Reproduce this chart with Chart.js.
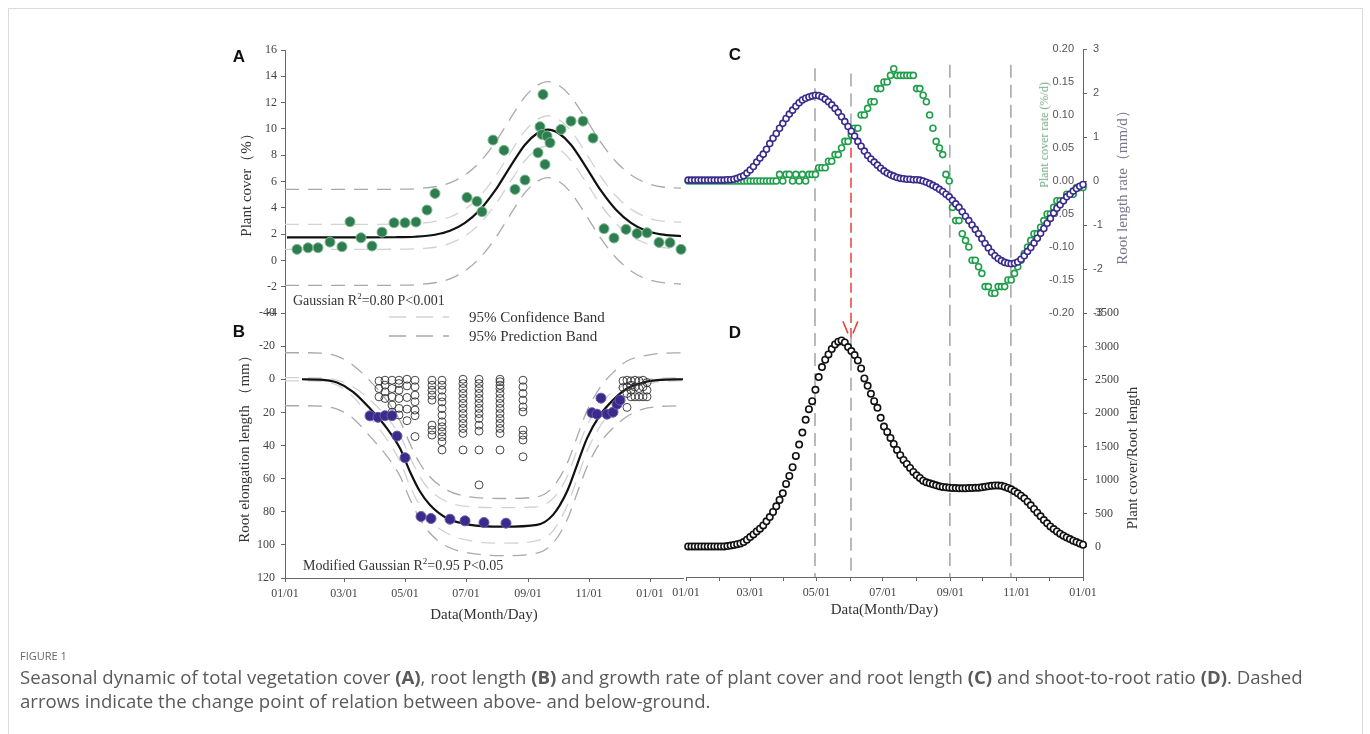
<!DOCTYPE html>
<html>
<head>
<meta charset="utf-8">
<title>Figure 1</title>
<script src="https://cdn.jsdelivr.net/npm/chart.js@4.4.1/dist/chart.umd.min.js"></script>
<style>
  html, body { margin:0; padding:0; background:#fff; }
  body { width:1370px; height:734px; position:relative; overflow:hidden; }
  .frame { position:absolute; left:8px; top:8px; width:1355px; height:800px; border:1px solid #dcdcdc; box-sizing:border-box; }
  canvas.layer { position:absolute; left:0; top:0; }
  .t { position:absolute; white-space:nowrap; line-height:1; }
  .c { transform:translate(-50%,-50%); }
  .rot { transform:translate(-50%,-50%) rotate(-90deg); }
  .ml { transform:translateY(-50%); }
  .panel { font-family:'Liberation Sans', Arial, sans-serif; font-weight:bold; font-size:17px; color:#111; }
  .note { font-family:'Liberation Serif', serif; font-size:14px; color:#333; }
  .note sup { font-size:9px; vertical-align:6px; line-height:0; }
  .leg { font-family:'Liberation Serif', serif; font-size:15px; color:#333; }
  .ttl { font-family:'Liberation Serif', serif; font-size:15px; color:#333; }
  .cap1 { left:20px; top:650px; font-family:'Open Sans', sans-serif; font-size:11px; color:#666; }
  .cap { position:absolute; left:20px; top:665px; width:1345px; font-family:'Open Sans', sans-serif; font-size:18.6px; line-height:24px; color:#5a5a5a; white-space:nowrap; }
  .cap b { font-weight:bold; color:#5a5a5a; }
</style>
</head>
<body>
<div class="frame"></div>
<canvas id="cA" class="layer" width="1370" height="734"></canvas>
<canvas id="cB" class="layer" width="1370" height="734"></canvas>
<canvas id="cC" class="layer" width="1370" height="734"></canvas>
<canvas id="cD" class="layer" width="1370" height="734"></canvas>

<div class="t panel c" style="left:239px;top:56px">A</div>
<div class="t panel c" style="left:239px;top:331px">B</div>
<div class="t panel c" style="left:735px;top:54px">C</div>
<div class="t panel c" style="left:735px;top:332px">D</div>

<div class="t note ml" style="left:293px;top:301px">Gaussian R<sup>2</sup>=0.80 P&lt;0.001</div>
<div class="t note ml" style="left:303px;top:566px">Modified Gaussian R<sup>2</sup>=0.95 P&lt;0.05</div>

<svg style="position:absolute;left:385px;top:308px" width="70" height="36">
  <line x1="4" y1="9" x2="64" y2="9" stroke="#d2d2d2" stroke-width="1.3" stroke-dasharray="17,10"/>
  <line x1="4" y1="28" x2="64" y2="28" stroke="#a9a9a9" stroke-width="1.3" stroke-dasharray="17,10"/>
</svg>
<div class="t leg ml" style="left:469px;top:317px">95% Confidence Band</div>
<div class="t leg ml" style="left:469px;top:336px">95% Prediction Band</div>

<div class="t rot" style="left:1044px;top:135px;font-family:'Liberation Serif',serif;font-size:12px;color:#74a882">Plant cover rate (%/d)</div>
<div class="t ttl rot" style="left:1122px;top:184px;color:#76768e">Root length rate（mm/d）</div>
<div class="t ttl rot" style="left:1132px;top:458px">Plant cover/Root length</div>

<div class="t cap1">FIGURE 1</div>
<div class="cap">Seasonal dynamic of total vegetation cover <b>(A)</b>, root length <b>(B)</b> and growth rate of plant cover and root length <b>(C)</b> and shoot-to-root ratio <b>(D)</b>. Dashed<br>arrows indicate the change point of relation between above- and below-ground.</div>

<script>
// ---------------- DATA ----------------
// Panel A: plant cover (%) observations
const coverDays = [12,23,33,45,57,65,76,87,97,109,120,131,142,150,182,192,197,208,219,230,240,253,255,258,257,260,262,265,276,286,298,308,319,329,341,352,362,374,385,396];
const coverVals = [0.84,0.96,0.96,1.39,1.04,2.94,1.72,1.09,2.15,2.86,2.86,2.92,3.83,5.09,4.79,4.49,3.70,9.15,8.37,5.40,6.11,8.19,10.17,12.62,9.58,7.30,9.45,8.95,9.96,10.59,10.59,9.30,2.41,1.70,2.36,2.05,2.10,1.37,1.35,0.84];
// Panel A: Gaussian fit and bands
const fitDaysA = [2,40,80,110,130,150,165,180,195,210,225,240,252,263,274,286,301,316,331,346,361,376,396];
const fitA     = [1.75,1.75,1.75,1.76,1.8,1.95,2.25,2.85,3.85,5.3,7.1,8.8,9.65,9.95,9.65,8.8,7.1,5.3,3.85,2.85,2.25,1.98,1.85];
const bandDaysA = [0,40,80,110,130,150,165,180,195,210,225,240,252,263,274,286,301,316,331,346,361,376,396];
const confUpA  = [2.74,2.74,2.74,2.76,2.8,2.97,3.3,3.9,4.9,6.35,8.15,9.85,10.7,11.0,10.7,9.85,8.15,6.35,4.9,3.9,3.3,3.0,2.9];
const confLowA = [0.84,0.84,0.84,0.85,0.88,1.0,1.3,1.85,2.8,4.2,5.95,7.6,8.45,8.7,8.45,7.6,5.95,4.2,2.8,1.85,1.3,1.0,0.85];
const predUpA  = [5.4,5.4,5.4,5.41,5.45,5.6,5.9,6.5,7.5,8.95,10.75,12.45,13.3,13.6,13.3,12.45,10.75,8.95,7.5,6.5,5.9,5.6,5.5];
const predLowA = [-1.9,-1.9,-1.9,-1.89,-1.85,-1.7,-1.4,-0.8,0.2,1.65,3.45,5.15,6.0,6.3,6.0,5.15,3.45,1.65,0.2,-0.8,-1.4,-1.67,-1.8];
const yTicksA = [-4,-2,0,2,4,6,8,10,12,14,16];

// Panel B: root elongation length (mm)
const rootDays = [85,93,100,107,112,120,136,146,165,180,199,221,307,312,316,322,328,332,335];
const rootVals = [22.1,23,22,22,34.3,47.4,82.9,84.1,84.5,85.5,86.5,86.9,20.2,21.1,11.4,21.1,19.9,15.1,12.6];
const obsColDays = [94,100,107,114,122,130,147,157,178,194,215,238,338,342,346,350,354,358,362];
const obsColVals = [
  [1,5.6,10.6],
  [0.6,3.6,7.6,11.6],
  [0.6,5.6,10.6,15.6,20],
  [0.6,2.6,6.6,11.6,17.6,21.6],
  [0,4,11,18,25],
  [0.6,4.6,9.6,13.6,18.6,22,34.6],
  [0.6,3.6,6.6,9.6,12.6,27.7,30.7,33.7],
  [0.6,3.6,6.6,10.6,13.7,17.7,21.7,25.7,28.7,31.7,34.7,37.7,42.7],
  [0,2.6,5.6,8.6,11.6,14.6,17.6,20.7,23.7,26.7,29.7,32.7,42.7],
  [0,2.6,5.6,8.6,11.6,14.6,17.6,20.7,23.7,27.7,31.3,42.7,63.8],
  [0,1.5,3.6,5.6,8.6,11.6,14.6,17.6,20.7,23.7,26.7,29.7,32.7,42.7],
  [0.6,4.6,8.6,12.6,16.7,19.7,30.7,33.7,36.7,46.8],
  [1,5],
  [0.6,4.6,8.6,17],
  [1,3.6,6.6,10.6],
  [0.6,4.6,10.6],
  [1,5.6,10.6],
  [0.6,4.6,10.6],
  [2,6.6,10.6]
];
const fitDaysB = [17,35,52,68,85,102,115,125,135,145,162,185,218,252,268,282,292,302,315,328,342,358,375,398];
const fitB     = [0,0.2,2,7.6,17.7,29.7,41.7,55.8,67.8,75.9,83.9,87.9,89,87.9,81.9,67.8,51.8,35.7,21.7,12.6,5.6,2,0.4,0];
const bandDaysB = [0,17,35,52,68,85,102,115,125,135,145,162,185,218,252,268,282,292,302,315,328,342,358,375,398];
const predUpB  = [-16,-16,-15.8,-14,-8.5,1,13,25,39,51,59,67,71,72,71,65,51,35,19,5,-4,-11,-14,-15.6,-16];
const predLowB = [16,16,16.2,18,23.5,34.5,46.5,58.5,72.5,84.5,93,101,105,106.5,105,99,85,69,53,38.5,29.5,22.5,18,16.4,16];
const confUpB  = [-1,-1,-0.8,0.5,4.5,12.5,23,34,47,59,67,74,77,77.5,77,72,59,43,28,15,7.5,2.5,0.2,-0.6,-1];
const confLowB = [1,1,1.2,3.5,10.5,23,36.5,49.5,64.5,76.5,85,93,97.5,99,97.5,91.5,76.5,60.5,43.5,28.5,18,9,4,1.4,1];
const yTicksB = [-40,-20,0,20,40,60,80,100,120];
const bTickDays = [0,59,120,181,243,304,365];
const bTickLabels = ['01/01','03/01','05/01','07/01','09/01','11/01','01/01'];

// Panels C and D: daily-rate series
const rateDays = [2,5,8,11,14,17,20,23,26,29,32,35,38,41,44,47,50,53,56,59,62,65,68,71,74,77,80,83,86,89,92,95,98,101,104,107,110,113,116,119,122,125,128,131,134,137,140,143,146,149,152,155,158,161,164,167,170,173,176,179,182,185,188,191,194,197,200,203,206,209,212,215,218,221,224,227,230,233,236,239,242,245,248,251,254,257,260,263,266,269,272,275,278,281,284,287,290,293,296,299,302,305,308,311,314,317,320,323,326,329,332,335,338,341,344,347,350,353,356,359,362,365];
const rootRate = [0.02,0.02,0.02,0.02,0.02,0.02,0.02,0.02,0.02,0.02,
  0.02,0.02,0.03,0.03,0.04,0.06,0.09,0.12,0.18,0.25,
  0.33,0.43,0.52,0.61,0.72,0.85,0.97,1.08,1.2,1.31,
  1.42,1.52,1.61,1.7,1.78,1.84,1.88,1.91,1.93,1.95,
  1.94,1.91,1.86,1.8,1.73,1.65,1.56,1.46,1.35,1.24,
  1.13,1.02,0.9,0.79,0.68,0.58,0.5,0.43,0.36,0.29,
  0.23,0.18,0.14,0.11,0.08,0.06,0.05,0.04,0.04,0.03,
  0.03,0.02,0.0,-0.03,-0.06,-0.1,-0.14,-0.19,-0.24,-0.3,
  -0.36,-0.44,-0.52,-0.6,-0.7,-0.8,-0.9,-1.0,-1.1,-1.2,
  -1.31,-1.42,-1.52,-1.62,-1.7,-1.76,-1.81,-1.85,-1.87,-1.88,
  -1.87,-1.84,-1.78,-1.7,-1.6,-1.51,-1.41,-1.3,-1.19,-1.08,
  -0.96,-0.85,-0.73,-0.62,-0.54,-0.45,-0.36,-0.3,-0.23,-0.17,
  -0.12,-0.08];
const coverRate = [0,0,0,0,0,0,0,0,0,0,
  0,0,0,0,0,0,0,0,0,0,
  0,0,0,0,0,0,0,0,0.01,0,
  0.01,0.01,0,0.01,0,0.01,0,0.01,0.01,0.01,
  0.02,0.02,0.02,0.03,0.03,0.04,0.04,0.05,0.06,0.06,
  0.07,0.08,0.08,0.10,0.10,0.11,0.12,0.12,0.14,0.14,
  0.15,0.15,0.16,0.17,0.16,0.16,0.16,0.16,0.16,0.16,
  0.14,0.14,0.13,0.12,0.10,0.08,0.06,0.05,0.04,0.01,
  0,-0.04,-0.06,-0.06,-0.08,-0.09,-0.10,-0.12,-0.12,-0.13,
  -0.14,-0.16,-0.16,-0.17,-0.17,-0.16,-0.16,-0.16,-0.15,-0.15,
  -0.14,-0.13,-0.12,-0.11,-0.10,-0.09,-0.08,-0.08,-0.07,-0.06,
  -0.05,-0.05,-0.04,-0.03,-0.03,-0.03,-0.02,-0.02,-0.02,-0.01,
  -0.01,-0.01];
const ratio = [5,5,5,5,5,5,5,5,5,5,
  5,5,10,18,28,38,50,70,105,145,
  185,230,270,320,380,445,520,605,700,800,
  940,1060,1190,1360,1530,1710,1900,2060,2180,2350,
  2540,2690,2800,2880,2960,3030,3070,3090,3060,2990,
  2930,2870,2790,2670,2520,2410,2290,2180,2080,1930,
  1800,1720,1630,1540,1450,1370,1300,1240,1180,1120,
  1070,1030,990,965,950,935,920,905,895,890,
  885,880,878,875,875,876,878,880,882,885,
  890,897,905,912,917,918,912,900,880,860,
  830,800,765,725,675,620,565,510,455,400,
  350,305,265,230,195,165,140,115,90,70,
  50,30];
const cTicksCover = [-0.2,-0.15,-0.1,-0.05,0,0.05,0.1,0.15,0.2];
const cTicksRoot = [-3,-2,-1,0,1,2,3];
const dTicks = [0,500,1000,1500,2000,2500,3000,3500];
const dMonthDays = [0,31,59,90,120,151,181,212,243,273,304,334,365];
const dMonthLabels = ['01/01','','03/01','','05/01','','07/01','','09/01','','11/01','','01/01'];
// change-point markers (day of year) and their extents
const vlineDays = [118.6,151.7,242.6,298.7];
const vlineTopC = [0.171,0.163,0.176,0.176];
const vlineBotC = [-0.2,0.073,-0.2,-0.2];
const vlineTopD = [3500,3130,3500,3500];
const vlineBotD = [-453,-453,-453,-453];
const redDay = 151.7;
const redC = [0.073,-0.2];
const redD = [3500,3130];
const arrowLDays = [144.3,148.9], arrowLVals = [3375,3195];
const arrowRDays = [158.0,153.5], arrowRVals = [3375,3195];

// ---------------- HELPERS ----------------
const SERIF = "'Liberation Serif', 'Times New Roman', serif";
const SANS = "'Liberation Sans', Arial, sans-serif";
Chart.defaults.font.family = SERIF;
Chart.defaults.color = '#444';
Chart.defaults.animation = false;
Chart.defaults.events = [];
Chart.defaults.plugins.legend.display = false;
Chart.defaults.plugins.tooltip.enabled = false;

const pts = (xs, ys) => xs.map((x, i) => ({x: x, y: ys[i]}));
function curve(xs, ys, color, width, dash, yAxisID) {
  return {data: pts(xs, ys), borderColor: color, borderWidth: width, borderDash: dash || [],
    pointRadius: 0, fill: false, cubicInterpolationMode: 'monotone', yAxisID: yAxisID || 'y', clip: 4};
}
function seg(xs, ys, color, width, dash, yAxisID) {
  return {data: pts(xs, ys), borderColor: color, borderWidth: width, borderDash: dash || [],
    pointRadius: 0, fill: false, tension: 0, yAxisID: yAxisID || 'y', clip: false};
}
function dots(xs, ys, r, fillC, strokeC, bw, yAxisID) {
  return {data: pts(xs, ys), showLine: false, pointRadius: r, pointBackgroundColor: fillC,
    pointBorderColor: strokeC, pointBorderWidth: bw, yAxisID: yAxisID || 'y', clip: false};
}
const fixTicks = vals => (s => { s.ticks = vals.map(v => ({value: v})); });
const axisGrid = {display: true, drawOnChartArea: false, drawTicks: true, tickLength: 4, color: '#666'};
const axisBorder = {display: true, color: '#666', width: 1};

// ---------------- PANEL A ----------------
new Chart(document.getElementById('cA'), {
  type: 'line',
  data: {datasets: [
    dots(coverDays, coverVals, 5, '#2e7d4e', '#7fb893', 1),
    curve(fitDaysA, fitA, '#111', 2.2),
    curve(bandDaysA, confUpA, '#d2d2d2', 1.3, [14, 9]),
    curve(bandDaysA, confLowA, '#d2d2d2', 1.3, [14, 9]),
    curve(bandDaysA, predUpA, '#a9a9a9', 1.3, [14, 9]),
    curve(bandDaysA, predLowA, '#a9a9a9', 1.3, [14, 9])
  ]},
  options: {
    responsive: false,
    layout: {padding: {left: 235, right: 687, top: 50, bottom: 421}},
    scales: {
      x: {type: 'linear', min: 0, max: 398, display: false},
      y: {type: 'linear', min: -4, max: 16, afterBuildTicks: fixTicks(yTicksA),
        ticks: {font: {family: SERIF, size: 12}, color: '#444', padding: 4},
        grid: axisGrid, border: axisBorder,
        title: {display: true, text: 'Plant cover（%）', font: {family: SERIF, size: 15}, color: '#333', padding: {top: 3, bottom: 0}},
        afterFit: s => { s.width = 50; }}
    }
  }
});

// ---------------- PANEL B ----------------
const obsDaysFlat = [], obsValsFlat = [];
obsColDays.forEach((d, i) => obsColVals[i].forEach(v => { obsDaysFlat.push(d); obsValsFlat.push(v); }));
new Chart(document.getElementById('cB'), {
  type: 'line',
  data: {datasets: [
    dots(rootDays, rootVals, 5, '#3b2a8a', '#6a5cb0', 1),
    dots(obsDaysFlat, obsValsFlat, 4, 'rgba(255,255,255,0)', '#333', 0.9),
    curve(fitDaysB, fitB, '#111', 2.2),
    curve(bandDaysB, confUpB, '#d2d2d2', 1.3, [14, 9]),
    curve(bandDaysB, confLowB, '#d2d2d2', 1.3, [14, 9]),
    curve(bandDaysB, predUpB, '#a9a9a9', 1.3, [14, 9]),
    curve(bandDaysB, predLowB, '#a9a9a9', 1.3, [14, 9])
  ]},
  options: {
    responsive: false,
    layout: {padding: {left: 235, right: 687, top: 313, bottom: 106}},
    scales: {
      x: {type: 'linear', min: 0, max: 398, position: 'bottom', afterBuildTicks: fixTicks(bTickDays),
        ticks: {autoSkip: false, maxRotation: 0, font: {family: SERIF, size: 12}, color: '#444', padding: 5,
          callback: v => { const i = bTickDays.indexOf(v); return i >= 0 ? bTickLabels[i] : ''; }},
        grid: axisGrid, border: axisBorder,
        title: {display: true, text: 'Data(Month/Day)', font: {family: SERIF, size: 15}, color: '#333', padding: {top: 0, bottom: 4}},
        afterFit: s => { s.height = 50; }},
      y: {type: 'linear', min: -40, max: 120, reverse: true, afterBuildTicks: fixTicks(yTicksB),
        ticks: {font: {family: SERIF, size: 12}, color: '#444', padding: 6},
        grid: axisGrid, border: axisBorder,
        title: {display: true, text: 'Root elongation length （mm）', font: {family: SERIF, size: 15}, color: '#333', padding: {top: 1, bottom: 0}},
        afterFit: s => { s.width = 50; }}
    }
  }
});

// ---------------- PANEL C ----------------
const cDatasets = [
  dots(rateDays, rootRate, 3, '#fff', '#3a2a8c', 1.6, 'yP'),
  dots(rateDays, coverRate, 3, '#fff', '#1f9e4a', 1.6, 'yG')
];
vlineDays.forEach((d, i) => cDatasets.push(seg([d, d], [vlineTopC[i], vlineBotC[i]], '#a3a3a3', 1.5, [13, 7], 'yG')));
cDatasets.push(seg([redDay, redDay], redC, '#e8413c', 1.5, [10, 5], 'yG'));
new Chart(document.getElementById('cC'), {
  type: 'line',
  data: {datasets: cDatasets},
  options: {
    responsive: false,
    layout: {padding: {left: 686, right: 257, top: 49, bottom: 421}},
    scales: {
      x: {type: 'linear', min: 0, max: 365, display: false},
      yG: {type: 'linear', position: 'right', weight: 0, min: -0.2, max: 0.2, afterBuildTicks: fixTicks(cTicksCover),
        ticks: {mirror: true, padding: -9, font: {family: SANS, size: 11}, color: '#555', callback: v => v.toFixed(2)},
        grid: {display: true, drawOnChartArea: false, drawTicks: false}, border: axisBorder,
        afterFit: s => { s.width = 0; }},
      yP: {type: 'linear', position: 'right', weight: 1, min: -3, max: 3, afterBuildTicks: fixTicks(cTicksRoot),
        ticks: {font: {family: SANS, size: 11}, color: '#555', padding: 6, callback: v => String(v)},
        grid: axisGrid, border: axisBorder,
        afterFit: s => { s.width = 30; }}
    }
  }
});

// ---------------- PANEL D ----------------
const dDatasets = [
  dots(rateDays, ratio, 3.2, '#fff', '#111', 1.6, 'y')
];
vlineDays.forEach((d, i) => dDatasets.push(seg([d, d], [vlineTopD[i], vlineBotD[i]], '#a3a3a3', 1.5, [13, 7], 'y')));
dDatasets.push(seg([redDay, redDay], redD, '#e8413c', 1.5, [10, 5], 'y'));
dDatasets.push(seg(arrowLDays, arrowLVals, '#e8413c', 1.5, [], 'y'));
dDatasets.push(seg(arrowRDays, arrowRVals, '#e8413c', 1.5, [], 'y'));
new Chart(document.getElementById('cD'), {
  type: 'line',
  data: {datasets: dDatasets},
  options: {
    responsive: false,
    layout: {padding: {left: 686, right: 237, top: 313, bottom: 111}},
    scales: {
      x: {type: 'linear', min: 0, max: 365, position: 'bottom', afterBuildTicks: fixTicks(dMonthDays),
        ticks: {autoSkip: false, maxRotation: 0, font: {family: SERIF, size: 12}, color: '#444', padding: 5,
          callback: v => { const i = dMonthDays.indexOf(v); return i >= 0 ? dMonthLabels[i] : ''; }},
        grid: axisGrid, border: axisBorder,
        title: {display: true, text: 'Data(Month/Day)', font: {family: SERIF, size: 15}, color: '#333', padding: {top: 0, bottom: 4}},
        afterFit: s => { s.height = 46; }},
      y: {type: 'linear', position: 'right', min: -453, max: 3500, afterBuildTicks: fixTicks(dTicks),
        ticks: {font: {family: SERIF, size: 12}, color: '#444', padding: 8, callback: v => String(v)},
        grid: axisGrid, border: axisBorder,
        afterFit: s => { s.width = 50; }}
    }
  }
});
</script>
</body>
</html>
